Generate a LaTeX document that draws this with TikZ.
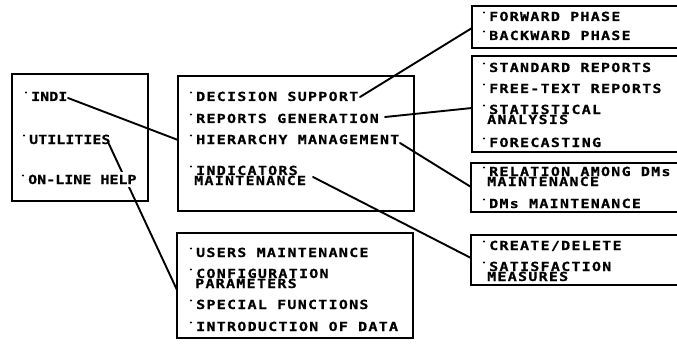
\documentclass[tikz,border=0pt]{standalone}
\usepackage{fontspec}
\usetikzlibrary{calc}
% Wide, tracked monospace lettering for the menu entries
\newfontfamily\wideface{DejaVu Sans Mono Bold}[FakeStretch=1.2, FakeBold=0.6, LetterSpace=10]
\newfontfamily\narrowface{DejaVu Sans Mono Bold}[FakeStretch=1.2, FakeBold=0.6, LetterSpace=0]

\tikzset{
  panel/.style={draw, line width=1.3pt, rectangle, inner sep=0pt, outer sep=0pt, anchor=north west},
  entry/.style={anchor=base west, inner sep=0pt, font=\wideface\fontsize{12.5}{10}\selectfont},
  mainentry/.style={entry, font=\narrowface\fontsize{12.5}{10}\selectfont},
  link/.style={line width=1.9pt, line cap=round},
}
% bulleted menu entry: [style] name, x, baseline y, text
\newcommand\menuitem[5][]{%
  \node[entry,#1] (#2) at (#3,#4) {#5};
  \fill ($(#2.base west)+(-5,-8.5)$) circle (1.2pt);}

\begin{document}
\begin{tikzpicture}[x=1pt,y=-1pt]
\useasboundingbox (0,0) rectangle (677,350);
\fill[white] (0,0) rectangle (677,350);
\clip (0,0) rectangle (677,350);

% frames
\node[panel, minimum width=136pt, minimum height=127pt] (mainmenu) at (12,74) {};
\node[panel, minimum width=236pt, minimum height=135pt] (indimenu) at (178,76) {};
\node[panel, minimum width=236pt, minimum height=105pt] (utilmenu) at (177,233) {};
\node[panel, minimum width=230pt, minimum height=42pt] (decmenu) at (472,6) {};
\node[panel, minimum width=230pt, minimum height=96pt] (repmenu) at (472,56) {};
\node[panel, minimum width=230pt, minimum height=49pt] (hiermenu) at (471,163) {};
\node[panel, minimum width=230pt, minimum height=50pt] (indmenu) at (471,235) {};

% connectors
\coordinate (indi-tail) at (68,98);
\coordinate (util-tail) at (108,142);
\coordinate (dec-tail) at (360,97);
\coordinate (rep-tail) at (385,117);
\coordinate (hier-tail) at (400,143);
\coordinate (ind-tail) at (313,177);
\draw[link] (indi-tail) -- ($(indimenu.north west)+(0,64)$);
\draw[link] (util-tail) -- ($(utilmenu.north west)+(0,57)$);
\draw[link] (dec-tail) -- ($(decmenu.north west)+(0,22)$);
\draw[link] (rep-tail) -- ($(repmenu.north west)+(0,52)$);
\draw[link] (hier-tail) -- ($(hiermenu.north west)+(0,24)$);
\draw[link] (ind-tail) -- ($(indmenu.north west)+(0,23)$);

% main menu
\menuitem[mainentry]{indi}{31}{101}{INDI}
\menuitem[mainentry]{util}{29}{144}{UTILITIES}
\menuitem[mainentry, fill=white, inner ysep=3pt]{help}{28}{184}{ON-LINE HELP}

% INDI submenu
\menuitem{dec}{196}{101}{DECISION SUPPORT}
\menuitem{rep}{196}{123}{REPORTS GENERATION}
\menuitem{hier}{196}{144}{HIERARCHY MANAGEMENT}
\menuitem{ind}{196}{175}{INDICATORS}
\node[entry] (ind2) at (194,185) {MAINTENANCE};

% utilities submenu
\menuitem{usr}{196}{257}{USERS MAINTENANCE}
\menuitem{cfg}{196}{278}{CONFIGURATION}
\node[entry] (cfg2) at (195,288) {PARAMETERS};
\menuitem{spc}{196}{309}{SPECIAL FUNCTIONS}
\menuitem{intro}{196}{331}{INTRODUCTION OF DATA}

% decision support
\menuitem{fwd}{489}{21}{FORWARD PHASE}
\menuitem{bwd}{489}{40}{BACKWARD PHASE}

% reports generation
\menuitem{std}{489}{72}{STANDARD REPORTS}
\menuitem{free}{489}{93}{FREE-TEXT REPORTS}
\menuitem{stat}{489}{114}{STATISTICAL}
\node[entry] (stat2) at (487,124) {ANALYSIS};
\menuitem{fore}{489}{147}{FORECASTING}

% hierarchy management
\menuitem{rel}{489}{176}{RELATION AMONG DMs}
\node[entry] (rel2) at (487,186) {MAINTENANCE};
\menuitem{dms}{489}{208}{DMs MAINTENANCE}

% indicators maintenance
\menuitem{crt}{489}{250}{CREATE/DELETE}
\menuitem{sat}{489}{271}{SATISFACTION}
\node[entry] (sat2) at (487,281) {MEASURES};
\end{tikzpicture}
\end{document}
